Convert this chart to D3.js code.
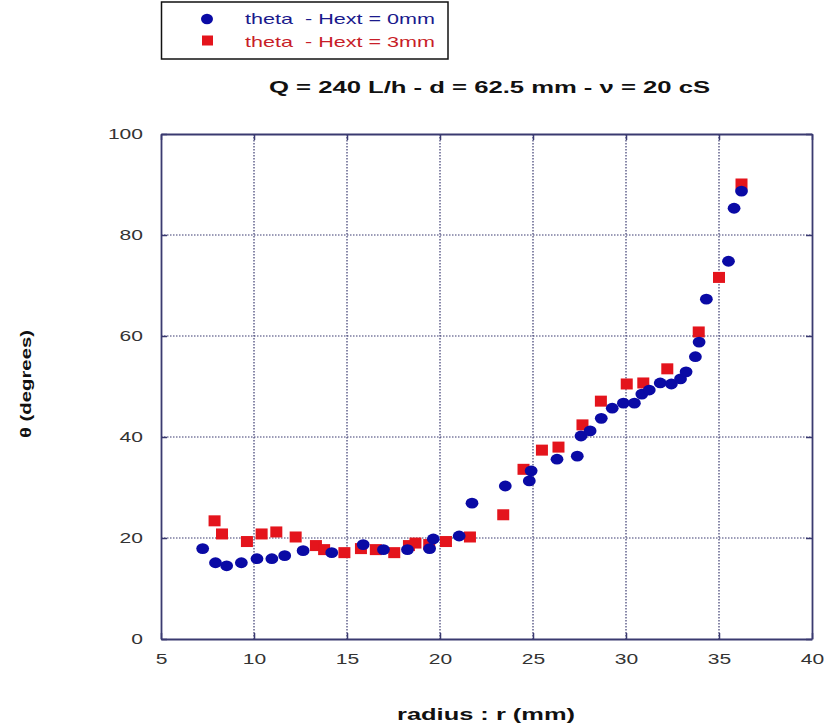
<!DOCTYPE html>
<html>
<head>
<meta charset="utf-8">
<script src="https://cdn.jsdelivr.net/npm/d3@7"></script>
<style>
  body { margin: 0; background: #fff; }
  text { font-family: "Liberation Sans", Arial, sans-serif; }
</style>
</head>
<body>
<svg id="vis" width="826" height="726"></svg>
<script>
// series: Hext = 0mm (blue circles)
const r_0mm = [7.24, 7.93, 8.53, 9.32, 10.16, 10.96, 11.65, 12.64, 14.18, 15.87, 16.96, 18.25, 19.44, 19.64, 21.03, 21.72,
               23.51, 24.8, 24.9, 26.29, 27.38, 27.58, 28.07, 28.67, 29.26, 29.86, 30.45, 30.85, 31.25, 31.84, 32.44, 32.93,
               33.23, 33.73, 33.93, 34.32, 35.51, 35.81, 36.21];
const theta_0mm = [17.9, 15.1, 14.5, 15.1, 15.9, 15.9, 16.5, 17.5, 17.1, 18.7, 17.7, 17.7, 17.9, 19.8, 20.4, 26.9,
                   30.3, 31.3, 33.3, 35.6, 36.2, 40.2, 41.2, 43.7, 45.7, 46.7, 46.7, 48.5, 49.3, 50.7, 50.5, 51.5,
                   52.9, 55.9, 58.8, 67.3, 74.8, 85.3, 88.7];
// series: Hext = 3mm (red squares)
const r_3mm = [7.88, 8.28, 9.62, 10.41, 11.2, 12.24, 13.33, 13.77, 14.86, 15.75, 16.55, 17.54, 18.33, 18.68, 19.42, 20.32,
               21.61, 23.4, 24.49, 25.48, 26.37, 27.66, 28.65, 30.04, 30.93, 32.22, 33.91, 35.0, 36.21];
const theta_3mm = [23.4, 20.8, 19.3, 20.8, 21.2, 20.2, 18.5, 17.7, 17.1, 17.9, 17.7, 17.1, 18.5, 19.0, 18.7, 19.3,
                   20.2, 24.6, 33.6, 37.4, 38.0, 42.4, 47.1, 50.5, 50.7, 53.5, 60.8, 71.6, 90.1];
const x_ticks = [5, 10, 15, 20, 25, 30, 35, 40];
const y_ticks = [0, 20, 40, 60, 80, 100];
const legend_labels = ["theta  - Hext = 0mm", "theta  - Hext = 3mm"];

const blue = "#0a0aa5", red = "#e4141c", axis_col = "#3a3a70";

const svg = d3.select("#vis");
const p_left = 161, p_right = 812, p_top = 134, p_bottom = 639;

const x = d3.scaleLinear().domain([5, 40]).range([p_left, p_right]);
const y = d3.scaleLinear().domain([0, 100]).range([p_bottom, p_top]);

// grid
const grid = svg.append("g");
grid.selectAll("line.vx").data(x_ticks.slice(1, -1)).join("line")
    .attr("x1", d => x(d)).attr("x2", d => x(d)).attr("y1", p_top).attr("y2", p_bottom)
    .attr("stroke", axis_col).attr("stroke-width", 1.2).attr("stroke-dasharray", "1.5,1.5");
grid.selectAll("line.hy").data(y_ticks.slice(1, -1)).join("line")
    .attr("y1", d => y(d)).attr("y2", d => y(d)).attr("x1", p_left).attr("x2", p_right)
    .attr("stroke", axis_col).attr("stroke-width", 1.2).attr("stroke-dasharray", "1.5,1.5");

// frame with inward ticks
const ax_b = d3.axisBottom(x).tickValues(x_ticks).tickSizeInner(-6).tickSizeOuter(0).tickPadding(14);
const ax_l = d3.axisLeft(y).tickValues(y_ticks).tickSizeInner(-6).tickSizeOuter(0).tickPadding(18);
const ax_t = d3.axisTop(x).tickValues(x_ticks).tickSizeInner(-6).tickSizeOuter(0).tickFormat("");
const ax_r = d3.axisRight(y).tickValues(y_ticks).tickSizeInner(-6).tickSizeOuter(0).tickFormat("");

// the source picture is stretched sideways, so widen the glyphs with textLength
const style_axis = g => {
  g.select(".domain").attr("stroke", axis_col).attr("stroke-width", 1.8);
  g.selectAll(".tick line").attr("stroke", axis_col).attr("stroke-width", 1.5);
  g.selectAll(".tick text").attr("fill", "#333").style("font-size", "15px")
    .style("font-family", "'Liberation Sans', Arial, sans-serif")
    .attr("textLength", function() { return this.textContent.length * 11.7; })
    .attr("lengthAdjust", "spacingAndGlyphs");
};
svg.append("g").attr("transform", `translate(0,${p_bottom})`).call(ax_b).call(style_axis);
svg.append("g").attr("transform", `translate(${p_left},0)`).call(ax_l).call(style_axis);
svg.append("g").attr("transform", `translate(0,${p_top})`).call(ax_t).call(style_axis);
svg.append("g").attr("transform", `translate(${p_right},0)`).call(ax_r).call(style_axis);

// points
svg.append("g").selectAll("rect").data(r_3mm.map((r, i) => [r, theta_3mm[i]])).join("rect")
    .attr("x", d => x(d[0]) - 6).attr("y", d => y(d[1]) - 5.5)
    .attr("width", 12).attr("height", 11).attr("fill", red);
svg.append("g").selectAll("ellipse").data(r_0mm.map((r, i) => [r, theta_0mm[i]])).join("ellipse")
    .attr("cx", d => x(d[0])).attr("cy", d => y(d[1]))
    .attr("rx", 6.4).attr("ry", 5.4).attr("fill", blue);

// legend
const leg = svg.append("g");
leg.append("rect").attr("x", 161.5).attr("y", 2).attr("width", 286.5).attr("height", 57)
   .attr("fill", "#fff").attr("stroke", "#111").attr("stroke-width", 1.5);
leg.append("ellipse").attr("cx", 207).attr("cy", 19).attr("rx", 6).attr("ry", 5.2).attr("fill", blue);
leg.append("rect").attr("x", 202).attr("y", 35.5).attr("width", 11).attr("height", 10).attr("fill", red);
leg.selectAll("text").data(legend_labels).join("text")
   .attr("x", 245).attr("y", (d, i) => 24 + i * 23)
   .attr("fill", (d, i) => i ? "#c81e28" : "#1a1a8c")
   .style("font-size", "15px").style("white-space", "pre")
   .attr("textLength", 190).attr("lengthAdjust", "spacingAndGlyphs")
   .text(d => d);

// titles
svg.append("text").attr("x", 269).attr("y", 93)
   .style("font-size", "16px").style("font-weight", "bold").attr("fill", "#111")
   .attr("textLength", 441).attr("lengthAdjust", "spacingAndGlyphs")
   .text("Q = 240 L/h - d = 62.5 mm - \u03bd = 20 cS");
svg.append("text").attr("x", 397).attr("y", 720)
   .style("font-size", "16px").style("font-weight", "bold").attr("fill", "#111")
   .attr("textLength", 178).attr("lengthAdjust", "spacingAndGlyphs")
   .text("radius : r (mm)");
svg.append("text").attr("transform", "translate(31,438) rotate(-90)")
   .style("font-size", "14px").style("font-weight", "bold").attr("fill", "#111")
   .attr("textLength", 108).attr("lengthAdjust", "spacingAndGlyphs")
   .text("\u03b8 (degrees)");
</script>
</body>
</html>
